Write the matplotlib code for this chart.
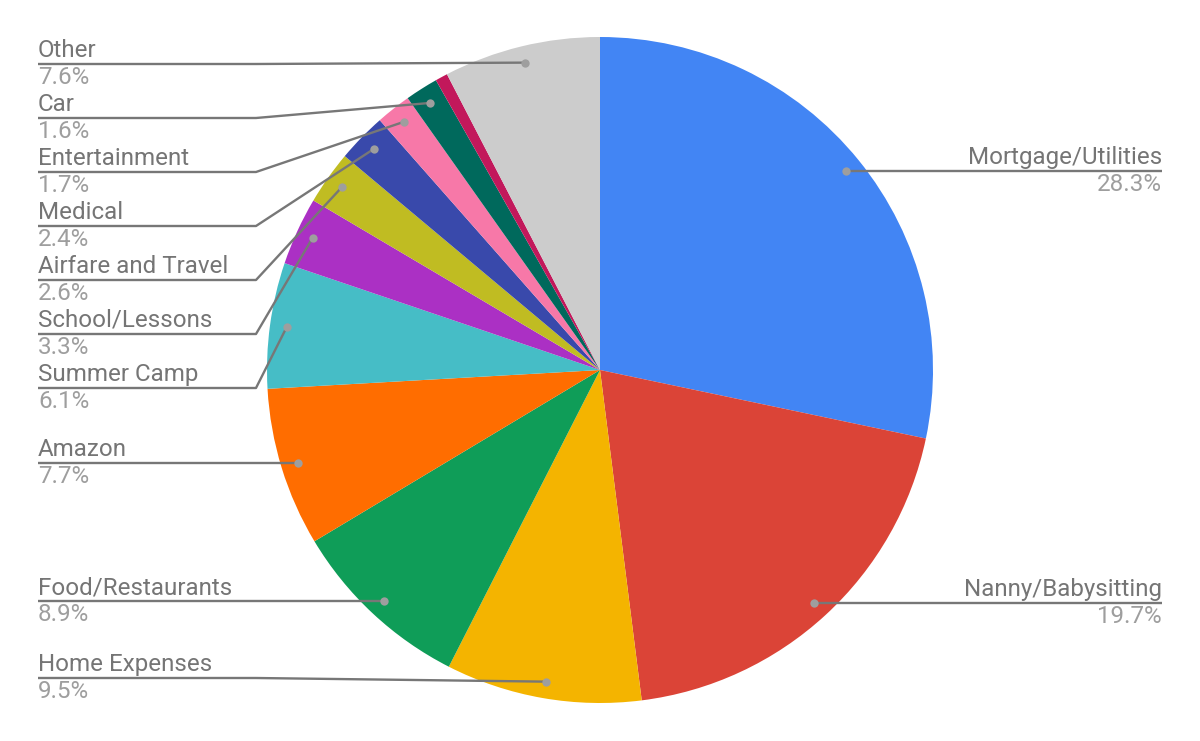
import numpy as np
import matplotlib.pyplot as plt

# slice order: clockwise from 12 o'clock
categories = ["Mortgage/Utilities", "Nanny/Babysitting", "Home Expenses",
              "Food/Restaurants", "Amazon", "Summer Camp", "School/Lessons",
              "Airfare and Travel", "Medical", "Entertainment", "Car", "", "Other"]
shares = [28.3, 19.7, 9.5, 8.9, 7.7, 6.1, 3.3, 2.6, 2.4, 1.7, 1.6, 0.6, 7.6]
pct_labels = ["28.3%", "19.7%", "9.5%", "8.9%", "7.7%", "6.1%", "3.3%",
              "2.6%", "2.4%", "1.7%", "1.6%", "", "7.6%"]
colors = ["#4285F4", "#DB4437", "#F4B400", "#0F9D58", "#FF6D00", "#46BDC6",
          "#AB30C4", "#C0BC22", "#3949AB", "#F778A8", "#00695C", "#C2185B",
          "#CCCCCC"]

W, H = 1200, 741
plt.rcParams["font.family"] = ["Roboto", "DejaVu Sans"]
fig = plt.figure(figsize=(W / 100, H / 100), dpi=100)
ax = fig.add_axes([0, 0, 1, 1])

cx, cy, r = 600, H - 370, 333
wedges, _ = ax.pie(shares, colors=colors, startangle=90, counterclock=False,
                   center=(cx, cy), radius=r,
                   wedgeprops=dict(linewidth=0))
ax.set_xlim(0, W)
ax.set_ylim(0, H)
ax.set_aspect("equal")
ax.axis("off")

name_col, pct_col, line_col, dot_col = "#757575", "#9E9E9E", "#777777", "#9E9E9E"
fs = 17.4
step = 54          # vertical spacing between stacked labels (px)
top_lim, bot_lim = 64, 678

# dot positions (screen px, y down)
items = []
for w, name, pct in zip(wedges, categories, pct_labels):
    if not name:
        continue
    mid = np.deg2rad((w.theta1 + w.theta2) / 2)
    dx = cx + 0.95 * r * np.cos(mid)
    dy = H - (cy + 0.95 * r * np.sin(mid))
    items.append(dict(name=name, pct=pct, dx=dx, dy=dy, left=dx < cx))

for side in (True, False):
    grp = sorted([it for it in items if it["left"] == side], key=lambda t: t["dy"])
    prev = top_lim - step
    for it in grp:
        it["uy"] = max(it["dy"], prev + step)
        prev = it["uy"]
    nxt = bot_lim + step
    for it in reversed(grp):
        it["uy"] = min(it["uy"], nxt - step)
        nxt = it["uy"]

for it in items:
    uy = it["uy"]
    if it["left"]:
        x0, elbow, ha = 38, 256, "left"
    else:
        x0, elbow, ha = 1162, 944, "right"
    xs = [x0, elbow, it["dx"]]
    ys = [H - uy, H - uy, H - it["dy"]]
    ax.plot(xs, ys, color=line_col, lw=1.7, solid_capstyle="butt", zorder=3)
    ax.scatter([it["dx"]], [H - it["dy"]], s=36, color=dot_col, zorder=4,
               linewidths=0)
    ax.text(x0, H - uy + 7, it["name"], ha=ha, va="baseline", fontsize=fs,
            color=name_col)
    ax.text(x0, H - uy - 20, it["pct"], ha=ha, va="baseline", fontsize=fs,
            color=pct_col)

fig.savefig("out.png", dpi=100, facecolor="white")
